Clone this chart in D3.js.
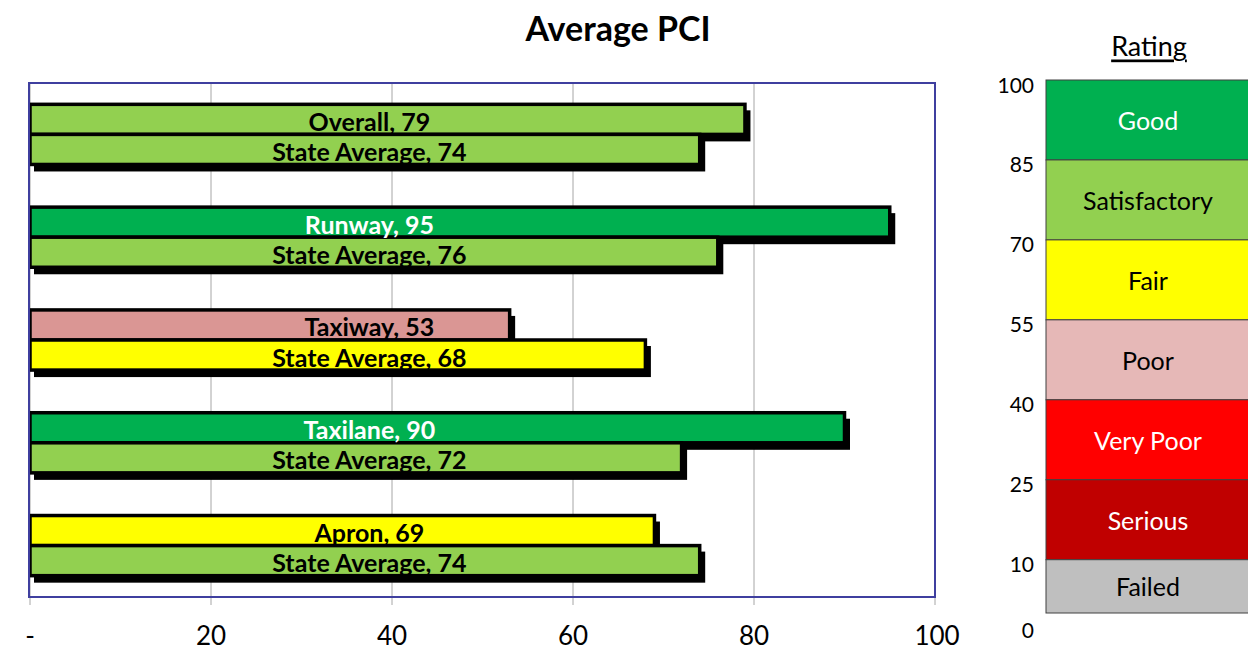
<!DOCTYPE html>
<html>
<head>
<meta charset="utf-8">
<script src="https://cdn.jsdelivr.net/npm/d3@7"></script>
<style>
  body { margin: 0; background: #fff; }
  text { font-family: Lato, "Open Sans", sans-serif; }
</style>
</head>
<body>
<script>
// data
const categories = ["Overall", "Runway", "Taxiway", "Taxilane", "Apron"];
const airportPCI = [79, 95, 53, 90, 69];
const statePCI = [74, 76, 68, 72, 74];
const xTicks = [0, 20, 40, 60, 80, 100];
const xTickLabels = ["-", "20", "40", "60", "80", "100"];
const ratingNames = ["Good", "Satisfactory", "Fair", "Poor", "Very Poor", "Serious", "Failed"];
const ratingTop = [100, 85, 70, 55, 40, 25, 10];
const ratingBottom = [85, 70, 55, 40, 25, 10, 0];
const ratingTicks = [100, 85, 70, 55, 40, 25, 10, 0];

const W = 1248, H = 650;
const plot = {left: 30, right: 935, top: 83, bottom: 597};

const svg = d3.select("body").append("svg")
  .attr("width", W).attr("height", H);

// bar colours by rating threshold
const barColor = d3.scaleThreshold()
  .domain([10, 25, 40, 55, 70, 85])
  .range(["#BFBFBF", "#C00000", "#FF0000", "#DA9694", "#FFFF00", "#92D050", "#00B050"]);
const bandColor = d3.scaleOrdinal()
  .domain(ratingNames)
  .range(["#00B050", "#92D050", "#FFFF00", "#E6B8B7", "#FF0000", "#C00000", "#BFBFBF"]);
const whiteText = ["Good", "Very Poor", "Serious"];

const x = d3.scaleLinear().domain([0, 100]).range([plot.left, plot.right]);
const y = d3.scaleBand().domain(categories)
  .range([plot.top, plot.bottom]).paddingInner(0.415).paddingOuter(0.2075);
const ySub = d3.scaleBand().domain(["own", "state"]).range([0, y.bandwidth()]);

// title
svg.append("text").attr("x", 618).attr("y", 27)
  .attr("text-anchor", "middle").attr("dominant-baseline", "central")
  .style("font-size", "34px").style("font-weight", "bold").text("Average PCI");

// gridlines + ticks
svg.append("g").selectAll("line").data(xTicks).enter().append("line")
  .attr("x1", d => x(d)).attr("x2", d => x(d))
  .attr("y1", plot.top).attr("y2", plot.bottom + 8)
  .attr("stroke", "#A6A6A6").attr("stroke-width", 1);

svg.append("g").selectAll("text").data(xTicks).enter().append("text")
  .attr("x", d => x(d) + (d === 100 ? 2 : 0)).attr("y", 635)
  .attr("text-anchor", "middle").attr("dominant-baseline", "central")
  .style("font-size", "26px")
  .text((d, i) => xTickLabels[i]);

// bars
const rows = categories.map((c, i) => [
  {cat: c, key: "own", label: c, value: airportPCI[i]},
  {cat: c, key: "state", label: "State Average", value: statePCI[i]}
]).flat();
const rowY = d => y(d.cat) + ySub(d.key);

// shadows first
svg.append("g").selectAll("rect").data(rows).enter().append("rect")
  .attr("x", x(0) + 4).attr("y", d => rowY(d) + 6)
  .attr("width", d => x(d.value) - x(0) + 1.5)
  .attr("height", ySub.bandwidth() + 1)
  .attr("fill", "#000");

svg.append("g").selectAll("rect").data(rows).enter().append("rect")
  .attr("x", x(0)).attr("y", rowY)
  .attr("width", d => x(d.value) - x(0))
  .attr("height", ySub.bandwidth())
  .attr("fill", d => barColor(d.value))
  .attr("stroke", "#000").attr("stroke-width", 3.5);

svg.append("g").selectAll("text").data(rows).enter().append("text")
  .attr("x", x(37.5)).attr("y", d => rowY(d) + ySub.bandwidth() / 2 + 1.5)
  .attr("text-anchor", "middle").attr("dominant-baseline", "central")
  .style("font-size", "25px").style("font-weight", "bold")
  .attr("fill", d => barColor(d.value) === "#00B050" ? "#fff" : "#000")
  .text(d => `${d.label}, ${d.value}`);

// plot border
svg.append("rect")
  .attr("x", plot.left - 1).attr("y", plot.top)
  .attr("width", plot.right - plot.left + 1).attr("height", plot.bottom - plot.top)
  .attr("fill", "none").attr("stroke", "#3F3F9F").attr("stroke-width", 2);

// rating legend
const ry = d3.scaleLinear().domain([0, 100]).range([613, 80]);
const legX = 1046, legW = 210;

svg.append("text").attr("x", 1149).attr("y", 45)
  .attr("text-anchor", "middle").attr("dominant-baseline", "central")
  .style("font-size", "27px").style("text-decoration", "underline")
  .text("Rating");

const bands = svg.append("g").selectAll("g").data(ratingNames).enter().append("g");
bands.append("rect")
  .attr("x", legX).attr("y", (d, i) => ry(ratingTop[i]))
  .attr("width", legW).attr("height", (d, i) => ry(ratingBottom[i]) - ry(ratingTop[i]))
  .attr("fill", d => bandColor(d)).attr("stroke", "#404040").attr("stroke-width", 1);
bands.append("text")
  .attr("x", 1148).attr("y", (d, i) => (ry(ratingBottom[i]) + ry(ratingTop[i])) / 2)
  .attr("text-anchor", "middle").attr("dominant-baseline", "central")
  .style("font-size", "25px")
  .attr("fill", d => whiteText.includes(d) ? "#fff" : "#000")
  .text(d => d);

svg.append("g").selectAll("text").data(ratingTicks).enter().append("text")
  .attr("x", 1034).attr("y", d => ry(d) + (d === 0 ? 16 : 4))
  .attr("text-anchor", "end").attr("dominant-baseline", "central")
  .style("font-size", "21px")
  .text(d => d);
</script>
</body>
</html>
